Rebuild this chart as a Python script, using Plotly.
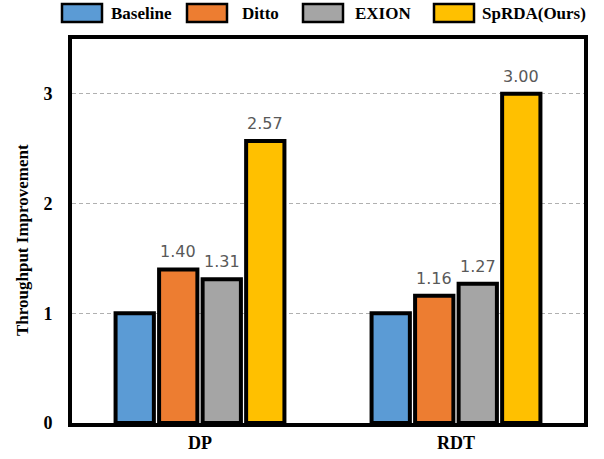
import plotly.graph_objects as go

categories = ["DP", "RDT"]
series_names = ["Baseline", "Ditto", "EXION", "SpRDA(Ours)"]
baseline = [1.00, 1.00]
ditto = [1.40, 1.16]
exion = [1.31, 1.27]
sprda = [2.57, 3.00]
series_values = [baseline, ditto, exion, sprda]
show_label = [False, True, True, True]
colors = ["#5B9BD5", "#ED7D31", "#A5A5A5", "#FFC000"]
y_ticks = [0, 1, 2, 3]

W, H = 604, 459
ML, MR, MT, MB = 72, 20, 39, 36
PW = W - ML - MR
PH = H - MT - MB
BARGAP = 0.32
GROUPGAP = 0.12

fig = go.Figure()
for name, vals, col in zip(series_names, series_values, colors):
    fig.add_trace(go.Bar(
        x=categories, y=vals, name=name,
        marker=dict(color=col, line=dict(color="black", width=4)),
        showlegend=False, hoverinfo="skip",
    ))

# data labels
cat_w = PW / len(categories)
slot = cat_w * (1 - BARGAP) / len(series_names)
annotations = []
for i, (vals, lab) in enumerate(zip(series_values, show_label)):
    if not lab:
        continue
    off = (i - (len(series_names) - 1) / 2) * slot
    for c, v in zip(categories, vals):
        annotations.append(dict(
            x=c, y=v, xref="x", yref="y", text=f"{v:.2f}", showarrow=False,
            xanchor="center", yanchor="bottom", xshift=off, yshift=6,
            font=dict(family="DejaVu Sans", size=16, color="#595959"),
        ))

# custom legend (pixel positions -> paper coords)
def px_x(p):
    return (p - ML) / PW

def px_y(p):
    return (H - MB - p) / PH

leg_boxes = [61, 186, 302, 433]
leg_text = [109, 240, 353, 480]
shapes = []
for name, col, bx, tx in zip(series_names, colors, leg_boxes, leg_text):
    shapes.append(dict(type="rect", xref="paper", yref="paper",
                       x0=px_x(bx + 1), x1=px_x(bx + 41), y0=px_y(22), y1=px_y(4),
                       fillcolor=col, line=dict(color="black", width=2.5), layer="above"))
    annotations.append(dict(x=px_x(tx), y=px_y(14), xref="paper", yref="paper",
                            text=f"<b>{name}</b>", showarrow=False, xanchor="left", yanchor="middle",
                            font=dict(family="Liberation Serif", size=17, color="black")))

# y axis title
annotations.append(dict(x=px_x(22), y=px_y(240), xref="paper", yref="paper",
                        text="<b>Throughput Improvement</b>", showarrow=False, textangle=-90,
                        xanchor="center", yanchor="middle",
                        font=dict(family="Liberation Serif", size=17, color="black")))

fig.update_layout(
    width=W, height=H,
    margin=dict(l=ML, r=MR, t=MT, b=MB, autoexpand=False),
    paper_bgcolor="white", plot_bgcolor="white",
    barmode="group", bargap=BARGAP, bargroupgap=GROUPGAP,
    annotations=annotations, shapes=shapes,
    showlegend=False, hovermode=False,
    font=dict(family="Liberation Serif", color="black"),
)
fig.update_xaxes(
    showline=True, linecolor="black", linewidth=4, mirror=True,
    showgrid=False, ticks="",
    tickfont=dict(family="Liberation Serif", size=18, color="black"),
    tickvals=categories, ticktext=[f"<b>{c}</b>" for c in categories],
)
fig.update_yaxes(
    range=[0, 3.5], tickvals=y_ticks, ticktext=[f"<b>{t}</b>" for t in y_ticks],
    showline=True, linecolor="black", linewidth=4, mirror=True,
    showgrid=True, gridcolor="#B0B0B0", gridwidth=1, griddash="4px,3px",
    zeroline=False, ticks="", ticklabelstandoff=12,
    tickfont=dict(family="Liberation Serif", size=18, color="black"),
)

fig.write_html("out.html", config={"displayModeBar": False, "staticPlot": True},
               post_script="document.body.style.margin='0';document.body.style.padding='0';")
